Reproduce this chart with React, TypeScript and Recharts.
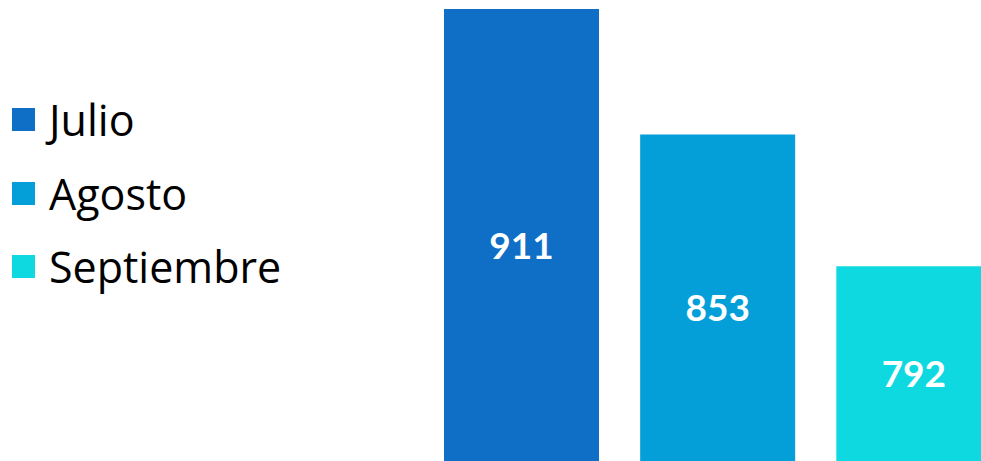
import React from 'react';
import { BarChart, Bar, XAxis, YAxis, Cell, LabelList } from 'recharts';

const months = ['Julio', 'Agosto', 'Septiembre'];
const totals = [911, 853, 792];
const colors = ['#0F6FC6', '#049FD9', '#0FD9E0'];

const data = months.map((m, i) => ({ name: m, value: totals[i] }));

// white label, nudged a bit below the bar middle like the original
const renderLabel = (props: any) => {
    const { x, y, width, height, value } = props;
    return (
        <text
            x={x + width / 2}
            y={y + height / 2 + 9}
            fill="#FFFFFF"
            textAnchor="middle"
            dominantBaseline="central"
            fontFamily="Lato, 'Open Sans', sans-serif"
            fontWeight={700}
            fontSize={37}
        >
            {value}
        </text>
    );
};

export default function App() {
    return (
        <div
            style={{
                position: 'absolute',
                left: 0,
                top: 0,
                width: 981,
                height: 461,
                overflow: 'hidden',
                background: '#FFFFFF',
            }}
        >
            <div style={{ position: 'absolute', left: 12, top: 83 }}>
                {months.map((m, i) => (
                    <div
                        key={m}
                        style={{ display: 'flex', alignItems: 'center', height: 73.5 }}
                    >
                        <span
                            style={{
                                display: 'inline-block',
                                width: 23,
                                height: 23,
                                background: colors[i],
                                marginRight: 14,
                            }}
                        />
                        <span
                            style={{
                                fontFamily: "'Open Sans', sans-serif",
                                fontSize: 43,
                                color: '#000000',
                                lineHeight: 1,
                            }}
                        >
                            {m}
                        </span>
                    </div>
                ))}
            </div>
            <div style={{ position: 'absolute', left: 0, top: 0 }}>
                <BarChart
                    width={1012}
                    height={461}
                    data={data}
                    margin={{ top: 9, right: 0, bottom: 0, left: 423.5 }}
                    barCategoryGap={20.5}
                >
                    <XAxis dataKey="name" hide />
                    <YAxis hide domain={[702, 911]} allowDataOverflow />
                    <Bar dataKey="value" isAnimationActive={false}>
                        {data.map((d, i) => (
                            <Cell key={d.name} fill={colors[i]} />
                        ))}
                        <LabelList dataKey="value" content={renderLabel} />
                    </Bar>
                </BarChart>
            </div>
        </div>
    );
}
